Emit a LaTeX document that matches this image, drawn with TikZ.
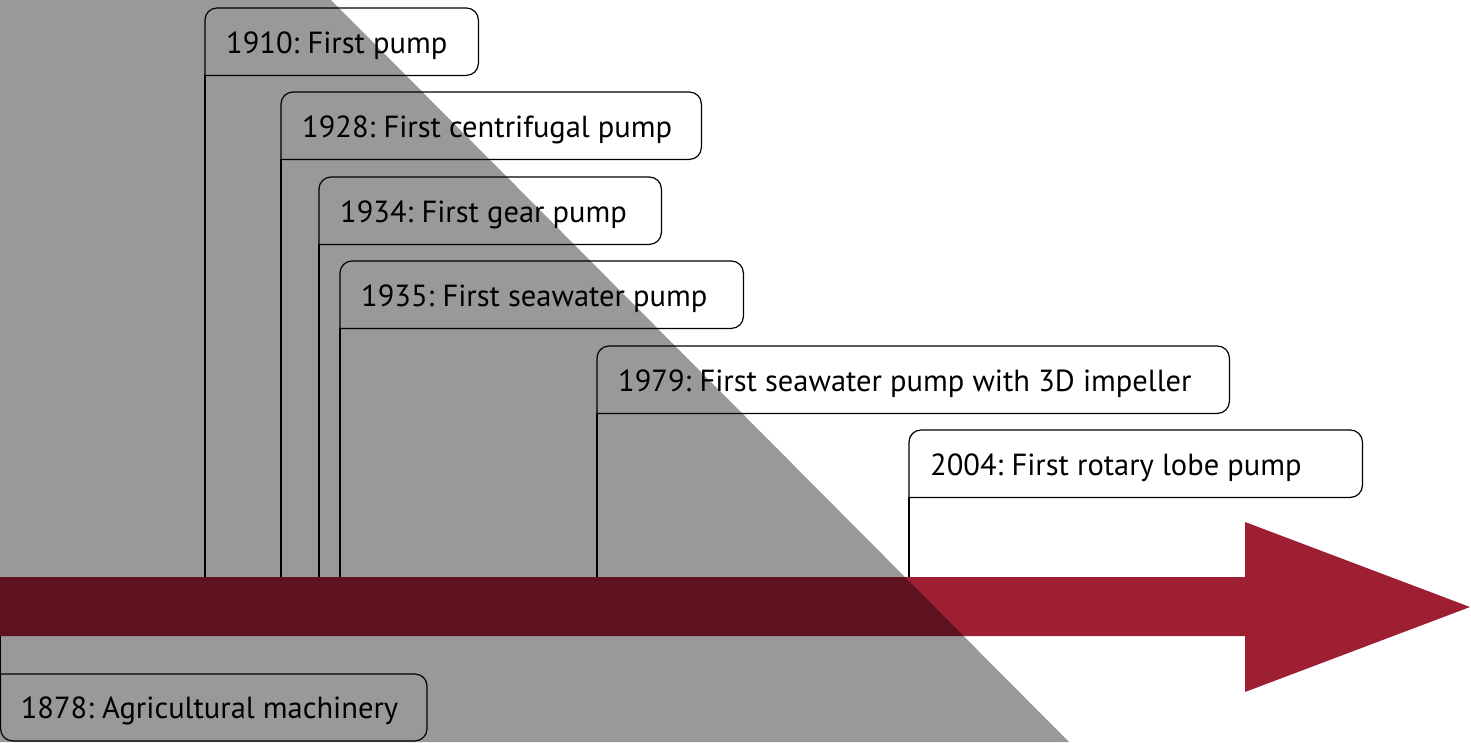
\documentclass[tikz,border=0pt]{standalone}
\usepackage{fontspec}
\setmainfont{PT Sans}
\frenchspacing
\definecolor{arrowred}{RGB}{158,31,50}
\begin{document}
\begin{tikzpicture}[x=1pt,y=-1pt,
  evtbox/.style={anchor=north west, inner sep=0pt, minimum height=67pt, draw=none},
  evttext/.style={anchor=base west, inner sep=0pt, font=\fontsize{30.5}{36}\selectfont},
  boxline/.style={draw=black, line width=1.2pt, rounded corners=12pt},
  conn/.style={draw=black, line width=1.2pt}
]
\useasboundingbox (0,0) rectangle (1471,742);
\clip (0,0) rectangle (1471,742);
\fill[white] (0,0) rectangle (1471,742);
% axis reference coordinates
\coordinate (axisN) at (0,577);
\coordinate (axisS) at (0,636);
% event boxes
\node[evtbox, minimum width=273pt] (b1910) at (205,8) {};
\node[evtbox, minimum width=420pt] (b1928) at (281,92) {};
\node[evtbox, minimum width=342pt] (b1934) at (319,177) {};
\node[evtbox, minimum width=403pt] (b1935) at (340,261) {};
\node[evtbox, minimum width=632pt] (b1979) at (597,346) {};
\node[evtbox, minimum width=453pt] (b2004) at (909,430) {};
\node[evtbox, minimum width=426pt, minimum height=66.5pt] (b1878) at (0.6,674) {};
% texts
\node[evttext] (t1910) at ([xshift=21pt,yshift=-45pt]b1910.north west) {1910: First pump};
\node[evttext] (t1928) at ([xshift=21pt,yshift=-45pt]b1928.north west) {1928: First centrifugal pump};
\node[evttext] (t1934) at ([xshift=21pt,yshift=-45pt]b1934.north west) {1934: First gear pump};
\node[evttext] (t1935) at ([xshift=21pt,yshift=-45pt]b1935.north west) {1935: First seawater pump};
\node[evttext] (t1979) at ([xshift=21pt,yshift=-45pt]b1979.north west) {1979: First seawater pump with 3D impeller};
\node[evttext] (t2004) at ([xshift=21pt,yshift=-45pt]b2004.north west) {2004: First rotary lobe pump};
\node[evttext] (t1878) at ([xshift=20pt,yshift=-44pt]b1878.north west) {1878: Agricultural machinery};
% box outlines (lower-left corner square) and connectors to the axis
\foreach \n in {b1910,b1928,b1934,b1935,b1979,b2004}{
  \draw[boxline] (\n.south west) -- (\n.north west) -- (\n.north east) -- (\n.south east) -- (\n.south west);
  \draw[conn] (\n.south west) -- (\n.south west |- axisN);
}
\draw[boxline] (b1878.north west) -- (b1878.north east) -- (b1878.south east) -- (b1878.south west) -- (b1878.north west);
\draw[conn] (b1878.north west) -- (b1878.north west |- axisS);
% timeline arrow
\fill[arrowred] (axisN) -- (1245,577) -- (1245,522) -- (1470,607) -- (1245,692) -- (1245,636) -- (axisS) -- cycle;
% shaded triangle overlay
\fill[black, opacity=0.4] (0,0) -- (331,0) -- (1069,742) -- (0,742) -- cycle;
\end{tikzpicture}
\end{document}
